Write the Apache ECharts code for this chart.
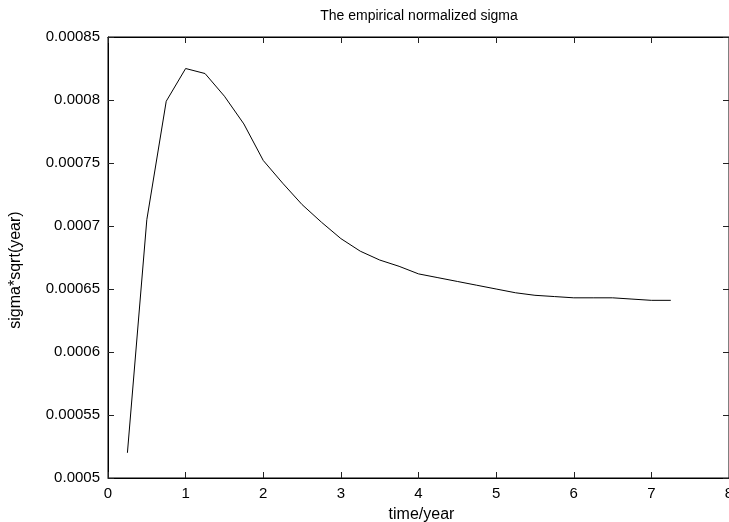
<!DOCTYPE html>
<html>
<head>
<meta charset="utf-8">
<script src="https://cdn.jsdelivr.net/npm/echarts@6/dist/echarts.min.js"></script>
<style>
  html, body { margin: 0; padding: 0; background: #fff; }
  #chart { width: 729px; height: 522px; }
</style>
</head>
<body>
<div id="chart"></div>
<script>
// time in years
var times = [0.25, 0.5, 0.75, 1.0, 1.25, 1.5, 1.75, 2.0, 2.25, 2.5, 2.75, 3.0, 3.25, 3.5, 3.75,
  4.0, 4.25, 4.5, 4.75, 5.0, 5.25, 5.5, 5.75, 6.0, 6.25, 6.5, 6.75, 7.0, 7.25]
// sigma*sqrt(year)
var sigma = [0.000520, 0.000705, 0.000799, 0.000825, 0.000821, 0.000803, 0.000781, 0.000752,
  0.000734, 0.000717, 0.000703, 0.000690, 0.000680, 0.000673, 0.000668, 0.000662, 0.000659,
  0.000656, 0.000653, 0.000650, 0.000647, 0.000645, 0.000644, 0.000643, 0.000643, 0.000643,
  0.000642, 0.000641, 0.000641]
var yTickLabels = ['0.0005', '0.00055', '0.0006', '0.00065', '0.0007', '0.00075', '0.0008', '0.00085']
var xTickLabels = ['0', '1', '2', '3', '4', '5', '6', '7', '8']

var yMin = 0.0005, yMax = 0.00085, yStep = 0.00005

var chart = echarts.init(document.getElementById('chart'))

var font = 'Liberation Sans, Arial, sans-serif'
// gnuplot style: ticks pointing into the plot on all four sides
var tick = { show: true, inside: true, length: 6, lineStyle: { color: '#222', width: 1 } }
var frameLine = { show: true, onZero: false, lineStyle: { color: '#000', width: 1 } }

var option = {
  animation: false,
  backgroundColor: '#fff',
  title: {
    text: 'The empirical normalized sigma',
    left: 414,
    top: 4,
    textAlign: 'center',
    textStyle: { fontFamily: font, fontSize: 14, fontWeight: 'normal', color: '#000' }
  },
  grid: {
    left: 108,
    right: 0,
    top: 37,
    bottom: 44,
    outerBoundsMode: 'none',
    containLabel: false,
    show: true,
    borderColor: '#000',
    borderWidth: 1
  },
  xAxis: [
    {
      type: 'value',
      min: 0, max: 8, interval: 1,
      name: 'time/year',
      nameLocation: 'middle',
      nameGap: 29,
      nameTextStyle: { fontFamily: font, fontSize: 16, color: '#000', padding: [0, 0, 0, 6] },
      axisLine: frameLine,
      axisTick: tick,
      splitLine: { show: false },
      axisLabel: {
        fontFamily: font, fontSize: 15, color: '#000', margin: 8,
        showMaxLabel: true,
        formatter: function (v) { return xTickLabels[Math.round(v)] }
      }
    },
    {
      type: 'value', position: 'top',
      min: 0, max: 8, interval: 1,
      axisLine: frameLine,
      axisTick: tick,
      axisLabel: { show: false },
      splitLine: { show: false }
    }
  ],
  yAxis: [
    {
      type: 'value',
      min: yMin, max: yMax, interval: yStep,
      name: 'sigma*sqrt(year)',
      nameLocation: 'middle',
      nameRotate: 90,
      nameGap: 84,
      nameTextStyle: { fontFamily: font, fontSize: 16, color: '#000', padding: [0, 25, 0, 0] },
      axisLine: frameLine,
      axisTick: tick,
      splitLine: { show: false },
      axisLabel: {
        fontFamily: font, fontSize: 15, color: '#000', margin: 8,
        formatter: function (v) { return yTickLabels[Math.round((v - yMin) / yStep)] }
      }
    },
    {
      type: 'value', position: 'right',
      min: yMin, max: yMax, interval: yStep,
      axisLine: frameLine,
      axisTick: tick,
      axisLabel: { show: false },
      splitLine: { show: false }
    }
  ],
  series: [
    {
      type: 'line',
      silent: true,
      symbol: 'none',
      lineStyle: { color: '#000', width: 1 },
      data: times.map(function (t, i) { return [t, sigma[i]] })
    }
  ]
}
option && chart.setOption(option)
</script>
</body>
</html>
